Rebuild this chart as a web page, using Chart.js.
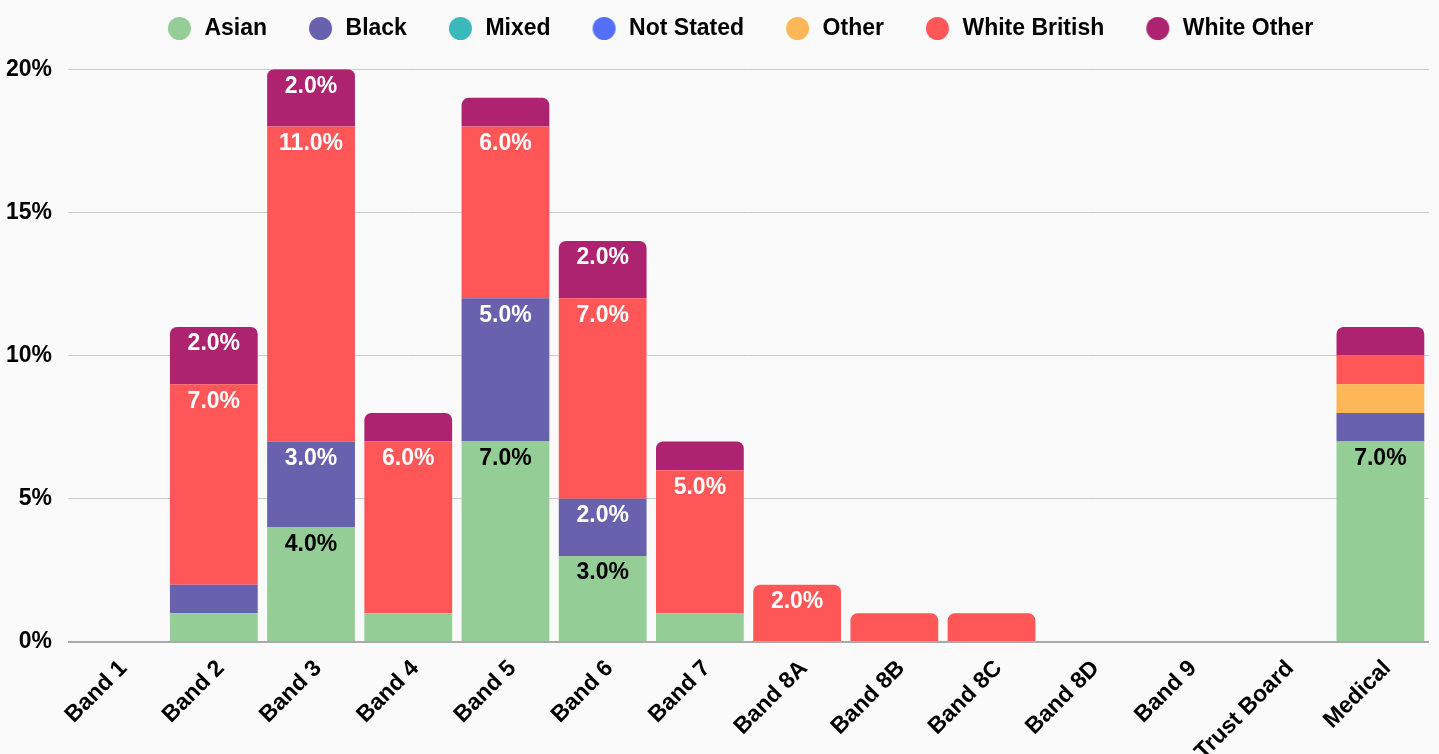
<!DOCTYPE html>
<html>
<head>
<meta charset="utf-8">
<script src="https://cdn.jsdelivr.net/npm/chart.js@4.4.1/dist/chart.umd.min.js"></script>
<style>
  html, body { margin: 0; padding: 0; background: #fafafa; }
  #wrap { width: 1439px; height: 754px; position: relative; }
</style>
</head>
<body>
<div id="wrap"><canvas id="bandChart"></canvas></div>
<script>
// Staff share by pay band and ethnic group (percent of total workforce)
const bands = ['Band 1', 'Band 2', 'Band 3', 'Band 4', 'Band 5', 'Band 6', 'Band 7',
  'Band 8A', 'Band 8B', 'Band 8C', 'Band 8D', 'Band 9', 'Trust Board', 'Medical'];

const asian        = [0, 1, 4, 1, 7, 3, 1, 0, 0, 0, 0, 0, 0, 7];
const black        = [0, 1, 3, 0, 5, 2, 0, 0, 0, 0, 0, 0, 0, 1];
const mixed        = [0, 0, 0, 0, 0, 0, 0, 0, 0, 0, 0, 0, 0, 0];
const notStated    = [0, 0, 0, 0, 0, 0, 0, 0, 0, 0, 0, 0, 0, 0];
const other        = [0, 0, 0, 0, 0, 0, 0, 0, 0, 0, 0, 0, 0, 1];
const whiteBritish = [0, 7, 11, 6, 6, 7, 5, 2, 1, 1, 0, 0, 0, 1];
const whiteOther   = [0, 2, 2, 1, 1, 2, 1, 0, 0, 0, 0, 0, 0, 1];

const yTicks = [0, 5, 10, 15, 20];

const FONT = "'Liberation Sans', Arial, sans-serif";

const series = [
  { label: 'Asian', data: asian, color: '#95cd97', text: '#000000' },
  { label: 'Black', data: black, color: '#6761ae', text: '#ffffff' },
  { label: 'Mixed', data: mixed, color: '#3bb9ba', text: '#ffffff' },
  { label: 'Not Stated', data: notStated, color: '#5470fa', text: '#ffffff' },
  { label: 'Other', data: other, color: '#feb756', text: '#ffffff' },
  { label: 'White British', data: whiteBritish, color: '#ff5757', text: '#ffffff' },
  { label: 'White Other', data: whiteOther, color: '#ad2370', text: '#ffffff' }
];

// legend marker: a dot sitting at the right end of a wider transparent box,
// so the empty part works as spacing before each item
const DOT = 23, DOT_GAP = 40, DOT_RIGHT = 2;
const DOT_W = DOT_GAP + DOT + DOT_RIGHT;
function makeDot(color) {
  const c = document.createElement('canvas');
  c.width = DOT_W;
  c.height = DOT;
  const g = c.getContext('2d');
  g.fillStyle = color;
  g.beginPath();
  g.arc(DOT_GAP + DOT / 2, DOT / 2, DOT / 2, 0, Math.PI * 2);
  g.fill();
  return c;
}
const dots = series.map(s => makeDot(s.color));

// nudge the legend row a little to the right
const legendShift = {
  id: 'legendShift',
  afterLayout(chart) {
    if (chart.legend) {
      chart.legend.left += 6;
      chart.legend.right += 6;
    }
  }
};

// draws "x.0%" near the top of every segment that is 2% or bigger
const segmentLabels = {
  id: 'segmentLabels',
  afterDatasetsDraw(chart) {
    const ctx = chart.ctx;
    ctx.save();
    ctx.font = 'bold 23px ' + FONT;
    ctx.textAlign = 'center';
    ctx.textBaseline = 'middle';
    chart.data.datasets.forEach((ds, i) => {
      const meta = chart.getDatasetMeta(i);
      if (meta.hidden) return;
      meta.data.forEach((bar, j) => {
        const v = ds.data[j];
        if (v < 2) return;
        ctx.fillStyle = series[i].text;
        ctx.fillText(v.toFixed(1) + '%', bar.x, bar.y + 17);
      });
    });
    ctx.restore();
  }
};

new Chart(document.getElementById('bandChart'), {
  type: 'bar',
  data: {
    labels: bands,
    datasets: series.map(s => ({
      label: s.label,
      data: s.data,
      backgroundColor: s.color,
      borderWidth: 0,
      borderRadius: 7,
      barPercentage: 0.903,
      categoryPercentage: 1
    }))
  },
  options: {
    responsive: true,
    maintainAspectRatio: false,
    animation: false,
    layout: { padding: { left: 0, right: 10, top: 15, bottom: 0 } },
    plugins: {
      legend: {
        position: 'top',
        labels: {
          usePointStyle: true,
          pointStyleWidth: DOT_W,
          boxHeight: DOT,
          padding: 2,
          color: '#000',
          font: { family: FONT, size: 23, weight: 'bold' },
          generateLabels(chart) {
            const items = Chart.defaults.plugins.legend.labels.generateLabels(chart);
            items.forEach(it => { it.pointStyle = dots[it.datasetIndex]; });
            return items;
          }
        }
      },
      // empty title used as a spacer between legend and plot
      title: {
        display: true,
        text: '',
        weight: 500,
        font: { size: 1 },
        padding: { top: 0, bottom: 18 }
      },
      tooltip: { enabled: false }
    },
    scales: {
      x: {
        stacked: true,
        grid: { display: false, drawTicks: false },
        border: { display: false },
        afterFit(scale) { scale.height = 112; },
        ticks: {
          color: '#000',
          minRotation: 45,
          maxRotation: 45,
          padding: 13,
          labelOffset: 7,
          autoSkip: false,
          font: { family: FONT, size: 23, weight: 'bold' }
        }
      },
      y: {
        stacked: true,
        min: 0,
        max: 20,
        afterBuildTicks(axis) {
          axis.ticks = yTicks.map(v => ({ value: v }));
        },
        afterFit(scale) { scale.width = 68; },
        grid: {
          drawTicks: false,
          color: ctx => ctx.tick && ctx.tick.value === 0 ? '#aaaaaa' : '#cccccc',
          lineWidth: ctx => ctx.tick && ctx.tick.value === 0 ? 2 : 1
        },
        border: { display: false },
        ticks: {
          color: '#000',
          padding: 16,
          font: { family: FONT, size: 23, weight: 'bold' },
          callback: v => v + '%'
        }
      }
    }
  },
  plugins: [segmentLabels, legendShift]
});
</script>
</body>
</html>
